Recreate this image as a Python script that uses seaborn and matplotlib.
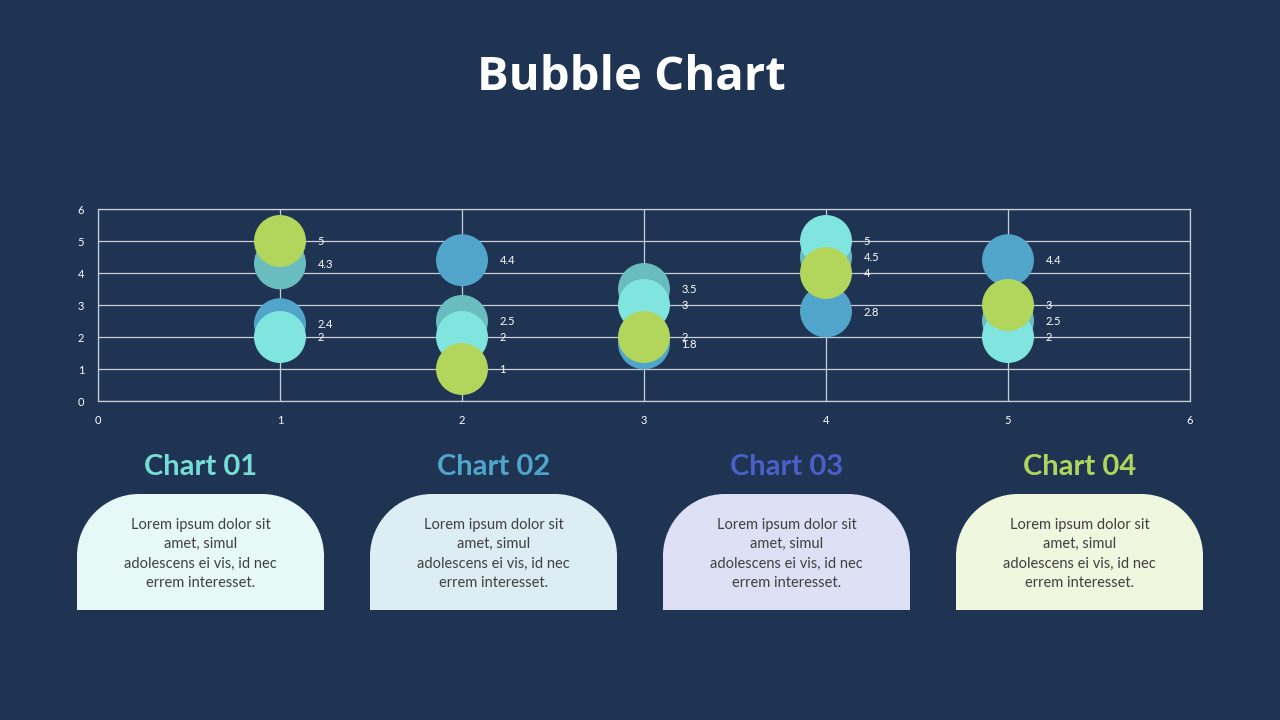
import numpy as np
import pandas as pd
import matplotlib
matplotlib.use("Agg")
import matplotlib.pyplot as plt
from matplotlib.path import Path
from matplotlib.patches import PathPatch
import seaborn as sns

BG = "#1F3453"
GRID = "#C9CFD8"

# --- data ---
x_pos = [1, 2, 3, 4, 5]
series_names = ["S1", "S2", "S3", "S4"]
s1_vals = [4.3, 2.5, 3.5, 4.5, 2.5]
s2_vals = [2.4, 4.4, 1.8, 2.8, 4.4]
s3_vals = [2, 2, 3, 5, 2]
s4_vals = [5, 1, 2, 4, 3]
series_colors = ["#6ABDBF", "#51A5CB", "#80E5DE", "#B2D55B"]

card_titles = ["Chart 01", "Chart 02", "Chart 03", "Chart 04"]
card_title_colors = ["#76DDD6", "#4FA5CB", "#4B5FC8", "#AED65C"]
card_fills = ["#E6F9F6", "#DCEDF4", "#DEE1F6", "#F0F7DF"]
card_text = "Lorem ipsum dolor sit\namet, simul\nadolescens ei vis, id nec\nerrem interesset."

rows = []
for name, vals in zip(series_names, [s1_vals, s2_vals, s3_vals, s4_vals]):
    for x, y in zip(x_pos, vals):
        rows.append({"series": name, "x": x, "y": y})
df = pd.DataFrame(rows)

sns.set_theme(style="dark")
plt.rcParams["font.family"] = ["Lato", "DejaVu Sans"]

fig = plt.figure(figsize=(12.8, 7.2), dpi=100, facecolor=BG)

# --- bubble chart ---
ax = fig.add_axes([98 / 1280, 1 - 401 / 720, 1092 / 1280, 192 / 720])
ax.set_facecolor(BG)
sns.scatterplot(data=df, x="x", y="y", hue="series", palette=series_colors,
                hue_order=series_names, s=1400, linewidth=0, alpha=1,
                legend=False, ax=ax, zorder=3)
for _, r in df.iterrows():
    v = r["y"]
    ax.annotate(f"{v:g}", (r["x"], v), xytext=(27, -0.5), textcoords="offset points",
                ha="left", va="center", color="white", fontsize=8, zorder=4)

ax.set_xlim(0, 6)
ax.set_ylim(0, 6)
ax.set_xticks(range(0, 7))
ax.set_yticks(range(0, 7))
ax.grid(True, color=GRID, linewidth=0.9)
ax.set_axisbelow(True)
for sp in ax.spines.values():
    sp.set_visible(True)
    sp.set_color(GRID)
    sp.set_linewidth(0.9)
ax.tick_params(axis="both", length=0, colors="white", labelsize=8)
ax.tick_params(axis="y", pad=10)
ax.tick_params(axis="x", pad=10)
ax.set_xlabel("")
ax.set_ylabel("")

# --- overlay for title and cards (pixel coords) ---
ov = fig.add_axes([0, 0, 1, 1])
ov.set_xlim(0, 1280)
ov.set_ylim(720, 0)
ov.axis("off")
ov.patch.set_alpha(0)

ov.text(631, 78, "Bubble Chart", ha="center", va="center", color="white",
        fontsize=34, fontweight="bold", family=["Open Sans", "DejaVu Sans"])


def card_path(x0, y0, w, h, r):
    k = 0.5523 * r
    x1, y1 = x0 + w, y0 + h
    verts = [
        (x0, y1), (x0, y0 + r),
        (x0, y0 + r - k), (x0 + r - k, y0), (x0 + r, y0),
        (x1 - r, y0),
        (x1 - r + k, y0), (x1, y0 + r - k), (x1, y0 + r),
        (x1, y1), (x0, y1),
    ]
    codes = [Path.MOVETO, Path.LINETO,
             Path.CURVE4, Path.CURVE4, Path.CURVE4,
             Path.LINETO,
             Path.CURVE4, Path.CURVE4, Path.CURVE4,
             Path.LINETO, Path.CLOSEPOLY]
    return Path(verts, codes)


card_left = [77, 370, 663, 956]
card_w = 247
for left, title, tcol, fill in zip(card_left, card_titles, card_title_colors, card_fills):
    cx = left + card_w / 2
    ov.add_patch(PathPatch(card_path(left, 494, card_w, 116, 62),
                           facecolor=fill, edgecolor="none"))
    ov.text(cx, 467, title, ha="center", va="center", color=tcol,
            fontsize=21, fontweight="bold")
    ov.text(cx, 554, card_text, ha="center", va="center", color="#404040",
            fontsize=10.5, linespacing=1.5)

fig.savefig("out.png", dpi=100, facecolor=BG)
